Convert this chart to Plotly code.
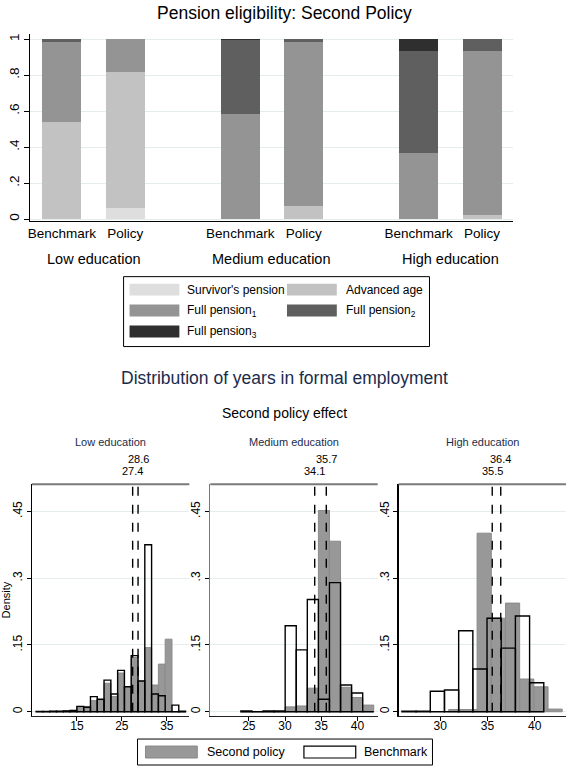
import plotly.graph_objects as go

W, H = 567, 771
FONT = "Liberation Sans, Arial, Helvetica, sans-serif"


def px(x):
    return x / W


def py(y):
    return 1 - y / H


# ---------------- Top chart data ----------------
edu_groups = ["Low education", "Medium education", "High education"]
scenarios = ["Benchmark", "Policy"]
# order: Low-Bench, Low-Policy, Med-Bench, Med-Policy, High-Bench, High-Policy
survivor = [0.0, 0.06, 0.0, 0.0, 0.0, 0.0]
advanced_age = [0.54, 0.76, 0.0, 0.07, 0.0, 0.024]
full_pension1 = [0.447, 0.18, 0.583, 0.917, 0.368, 0.911]
full_pension2 = [0.013, 0.0, 0.412, 0.013, 0.567, 0.065]
full_pension3 = [0.0, 0.0, 0.005, 0.0, 0.065, 0.0]
stack_names = ["Survivor's pension", "Advanced age", "Full pension<sub>1</sub>",
               "Full pension<sub>2</sub>", "Full pension<sub>3</sub>"]
stack_colors = ["#dedede", "#c2c2c2", "#949494", "#5f5f5f", "#2f2f2f"]

# ---------------- Histogram data ----------------
low_bin_start, low_bin_width = 5.94, 1.51
low_benchmark = [0.0005, 0.0005, 0.001, 0.001, 0.002, 0.003, 0.012, 0.010, 0.034, 0.028,
                 0.071, 0.040, 0.093, 0.056, 0.126, 0.069, 0.375, 0.040, 0.036, 0.0,
                 0.015, 0.001]
low_policy = [0.0005, 0.0005, 0.001, 0.001, 0.002, 0.003, 0.010, 0.012, 0.025, 0.025,
              0.064, 0.034, 0.087, 0.056, 0.122, 0.069, 0.144, 0.060, 0.107, 0.163,
              0.0, 0.0]

med_bin_start, med_bin_width = 23.9, 1.53
med_benchmark = [0.002, 0.0, 0.002, 0.002, 0.193, 0.139, 0.252, 0.028, 0.290, 0.060, 0.042, 0.0]
med_policy = [0.0, 0.0, 0.0, 0.0, 0.011, 0.013, 0.053, 0.452, 0.383, 0.055, 0.032, 0.015]

high_bench_start, high_policy_start, high_bin_width = 25.95, 30.9, 1.5
high_benchmark = [0.001, 0.001, 0.046, 0.049, 0.182, 0.096, 0.210, 0.143, 0.215, 0.065]
high_policy = [0.005, 0.005, 0.401, 0.210, 0.244, 0.0735, 0.056, 0.006]

mean_benchmark = [27.4, 34.1, 35.5]
mean_policy = [28.6, 35.7, 36.4]
x_ticks = [[15, 25, 35], [25, 30, 35, 40], [30, 35, 40]]
x_ranges = [[5.0, 40.0], [19.67, 42.8], [25.6, 43.3]]

POLICY_FILL = "#989898"
POLICY_LINE = "#8a8a8a"
GRID = "#e4ecee"
NAVY = "#1b2b4b"

fig = go.Figure()

# ---------------- Top stacked bars ----------------
group_step = 2.81
xpos = [g * group_step + s for g in range(len(edu_groups)) for s in range(len(scenarios))]
layers = [survivor, advanced_age, full_pension1, full_pension2, full_pension3]
base = [0.0] * len(xpos)
for name, vals, col in zip(stack_names, layers, stack_colors):
    fig.add_trace(go.Bar(x=xpos, y=vals, base=list(base), width=0.614, name=name,
                         marker=dict(color=col, line=dict(width=0)),
                         xaxis="x", yaxis="y", showlegend=False))
    base = [b + v for b, v in zip(base, vals)]


# ---------------- Histograms ----------------
def centers(start, width, n):
    return [start + width * (i + 0.5) for i in range(n)]


hist_specs = [
    (low_policy, low_bin_start, low_bin_width, low_benchmark, low_bin_start, low_bin_width),
    (med_policy, med_bin_start, med_bin_width, med_benchmark, med_bin_start, med_bin_width),
    (high_policy, high_policy_start, high_bin_width, high_benchmark, high_bench_start, high_bin_width),
]
for i, (pv, ps, pw, bv, bs, bw) in enumerate(hist_specs):
    xa, ya = f"x{i+2}", f"y{i+2}"
    fig.add_trace(go.Bar(x=centers(ps, pw, len(pv)), y=pv, width=pw, name="Second policy",
                         marker=dict(color=POLICY_FILL, line=dict(color=POLICY_LINE, width=1)),
                         xaxis=xa, yaxis=ya, showlegend=False))
    fig.add_trace(go.Bar(x=centers(bs, bw, len(bv)), y=bv, width=bw, name="Benchmark",
                         marker=dict(color="rgba(0,0,0,0)", line=dict(color="black", width=1.4)),
                         xaxis=xa, yaxis=ya, showlegend=False))

# ---------------- Layout / axes ----------------
layout = dict(
    width=W, height=H, margin=dict(l=0, r=0, t=0, b=0),
    paper_bgcolor="white", plot_bgcolor="white", barmode="overlay", bargap=0,
    font=dict(family=FONT, color="black"), showlegend=False,
)

top_y = [0, 0.2, 0.4, 0.6, 0.8, 1.0]
layout["xaxis"] = dict(domain=[px(28), px(513)], range=[-0.504, xpos[-1] + 0.49],
                       tickvals=xpos, ticktext=scenarios * len(edu_groups), ticks="",
                       tickfont=dict(size=13.5), showline=True, linecolor="black", linewidth=1,
                       showgrid=False, zeroline=False, anchor="y", fixedrange=True)
layout["yaxis"] = dict(domain=[py(220), py(33)], range=[-0.0094, 1.029], tickvals=top_y,
                       ticktext=["0", ".2", ".4", ".6", ".8", "1"], tickangle=-90,
                       ticks="outside", ticklen=5, tickcolor="black", tickfont=dict(size=13.5),
                       showline=True, linecolor="black", linewidth=1, showgrid=True,
                       gridcolor=GRID, gridwidth=1, zeroline=False, anchor="x")

panel_x = [(30, 188), (209, 377), (398, 566)]
panel_top, panel_bottom = 484, 715.7
axis_colors = ["black", "#777777", "black"]
for i in range(3):
    xa, ya = f"xaxis{i+2}", f"yaxis{i+2}"
    layout[xa] = dict(domain=[px(panel_x[i][0]), px(panel_x[i][1])], range=x_ranges[i],
                      tickvals=x_ticks[i], ticks="outside", ticklen=4, tickcolor="black",
                      tickfont=dict(size=12), showline=True, linecolor="#222222", linewidth=1.2,
                      showgrid=False, zeroline=False, anchor=f"y{i+2}", ticklabelstandoff=-5)
    layout[ya] = dict(domain=[py(panel_bottom), py(panel_top)], range=[-0.009, 0.5106],
                      tickvals=[0, 0.15, 0.3, 0.45], ticktext=["0", ".15", ".3", ".45"],
                      tickangle=-90, ticks="outside", ticklen=4, tickcolor="black",
                      tickfont=dict(size=12), showline=True, linecolor=axis_colors[i],
                      linewidth=1.2, showgrid=True, gridcolor=GRID, zeroline=False,
                      anchor=f"x{i+2}")
layout["yaxis2"]["title"] = dict(text="Density", font=dict(size=11), standoff=2)

shapes = []
annotations = []


def note(text, x, y, size, color="black", xanchor="center", xref="paper"):
    annotations.append(dict(text=text, x=x, y=y, xref=xref, yref="paper", showarrow=False,
                            xanchor=xanchor, yanchor="middle",
                            font=dict(size=size, color=color)))


# Titles
note("Pension eligibility: Second Policy", 0.5, py(12), 17.5)
note("Distribution of years in formal employment", 0.5, py(377), 17.5, NAVY)
note("Second policy effect", 0.5, py(413), 14)

# Group labels on the top chart
for g, name in enumerate(edu_groups):
    note(name, g * group_step + 0.5, py(258), 14.5, xref="x")

# Panel titles, top frame lines, mean lines
for i, name in enumerate(edu_groups):
    x0, x1 = panel_x[i]
    note(name, px((x0 + x1) / 2), py(442), 11, NAVY)
    shapes.append(dict(type="line", xref="paper", yref="paper", x0=px(x0), x1=px(x1),
                       y0=py(panel_top), y1=py(panel_top), line=dict(color="#7a7a7a", width=2)))
    for val, ylab in ((mean_benchmark[i], 471), (mean_policy[i], 459)):
        shapes.append(dict(type="line", xref=f"x{i+2}", yref="paper", x0=val, x1=val,
                           y0=py(711.7), y1=py(478), line=dict(color="black", width=1.4, dash="dash")))
        note(f"{val:.1f}", val, py(ylab), 11, xref=f"x{i+2}")

# Top legend (custom box)
shapes.append(dict(type="rect", xref="paper", yref="paper", x0=px(122), x1=px(429),
                   y0=py(346), y1=py(276), line=dict(color="black", width=1), fillcolor="white"))
leg_cols = [(128, 178, 184), (286, 336, 343)]
leg_rows = [289, 310, 331]
for k, (name, col) in enumerate(zip(stack_names, stack_colors)):
    r, c = divmod(k, 2)
    sx0, sx1, tx = leg_cols[c]
    yc = leg_rows[r]
    shapes.append(dict(type="rect", xref="paper", yref="paper", x0=px(sx0), x1=px(sx1),
                       y0=py(yc + 6), y1=py(yc - 6), line=dict(width=0), fillcolor=col))
    note(name, px(tx), py(yc), 12, xanchor="left")

# Bottom legend
shapes.append(dict(type="rect", xref="paper", yref="paper", x0=px(136), x1=px(432),
                   y0=py(765), y1=py(739), line=dict(color="black", width=1), fillcolor="white"))
shapes.append(dict(type="rect", xref="paper", yref="paper", x0=px(144), x1=px(196),
                   y0=py(758), y1=py(746), line=dict(color=POLICY_LINE, width=1),
                   fillcolor=POLICY_FILL))
note("Second policy", px(204), py(752), 12.5, xanchor="left")
shapes.append(dict(type="rect", xref="paper", yref="paper", x0=px(303), x1=px(355),
                   y0=py(758), y1=py(746), line=dict(color="black", width=1.2),
                   fillcolor="white"))
note("Benchmark", px(361), py(752), 12.5, xanchor="left")

layout["shapes"] = shapes
layout["annotations"] = annotations
fig.update_layout(**layout)
fig.write_html("out.html", config={"displayModeBar": False, "staticPlot": True},
               post_script="document.body.style.margin='0';document.body.style.overflow='hidden';")
